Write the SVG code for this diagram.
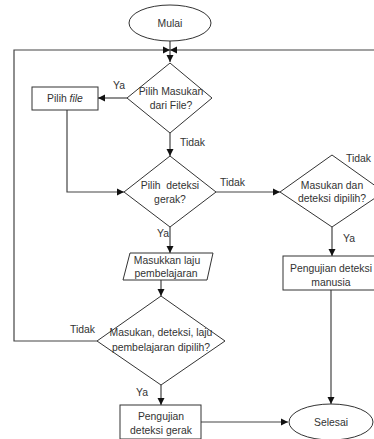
<svg xmlns="http://www.w3.org/2000/svg" width="374" height="439" viewBox="0 0 374 439">
<defs>
<marker id="arr" markerWidth="8" markerHeight="8" refX="7" refY="4" orient="auto" markerUnits="userSpaceOnUse">
<path d="M0,0.5 L7,4 L0,7.5 Z" fill="#111"/>
</marker>
<style>
.sh{fill:#fff;stroke:#333;stroke-width:1}
.ln{fill:none;stroke:#444;stroke-width:1.2}
text{font-family:"Liberation Sans",Arial,sans-serif;font-size:10.4px;fill:#333}
.c{text-anchor:middle}
</style>
</defs>
<rect width="374" height="439" fill="#fff"/>
<g id="connectors">
<path class="ln" d="M170,41 V62" marker-end="url(#arr)"/>
<path class="ln" d="M97,341 H14 V50 H170" marker-end="url(#arr)"/>
<path class="ln" d="M380,50 H170" marker-end="url(#arr)"/>
<path class="ln" d="M127,98 H98" marker-end="url(#arr)"/>
<path class="ln" d="M170,133 V156" marker-end="url(#arr)"/>
<path class="ln" d="M67,110 V192 H124" marker-end="url(#arr)"/>
<path class="ln" d="M216,192 H280" marker-end="url(#arr)"/>
<path class="ln" d="M170,227 V253" marker-end="url(#arr)"/>
<path class="ln" d="M332,227 V256" marker-end="url(#arr)"/>
<path class="ln" d="M161,280 V296" marker-end="url(#arr)"/>
<path class="ln" d="M161,385 V405" marker-end="url(#arr)"/>
<path class="ln" d="M201,422 H288" marker-end="url(#arr)"/>
<path class="ln" d="M331,290 V404" marker-end="url(#arr)"/>
<text x="113" y="89">Ya</text>
<text x="180" y="146">Tidak</text>
<text x="220" y="186">Tidak</text>
<text x="346" y="162">Tidak</text>
<text x="157" y="237">Ya</text>
<text x="343" y="242">Ya</text>
<text x="70" y="333">Tidak</text>
<text x="136" y="396">Ya</text>
</g>
<g id="mulai">
<ellipse class="sh" cx="170" cy="23" rx="41" ry="18"/>
<text class="c" x="170" y="27">Mulai</text>
</g>
<g id="d1">
<polygon class="sh" points="170,63 212,98 170,133 127,98"/>
<text class="c" x="171" y="95">Pilih Masukan</text>
<text class="c" x="171" y="109">dari File?</text>
</g>
<g id="pilihfile">
<rect class="sh" x="32" y="87" width="66" height="23"/>
<text class="c" x="65" y="102">Pilih <tspan font-style="italic">file</tspan></text>
</g>
<g id="d2">
<polygon class="sh" points="170,156 216,192 170,227 124,192"/>
<text class="c" x="170" y="189" xml:space="preserve">Pilih  deteksi</text>
<text class="c" x="170" y="203">gerak?</text>
</g>
<g id="d3">
<polygon class="sh" points="332,155 384,192 332,227 280,192"/>
<text class="c" x="332" y="189">Masukan dan</text>
<text class="c" x="332" y="202">deteksi dipilih?</text>
</g>
<g id="laju">
<polygon class="sh" points="130,253 213,253 207,280 123,280"/>
<text class="c" x="167" y="264">Masukkan laju</text>
<text class="c" x="166" y="277">pembelajaran</text>
</g>
<g id="manusia">
<rect class="sh" x="283" y="256" width="100" height="34"/>
<text class="c" x="331" y="272">Pengujian deteksi</text>
<text class="c" x="331" y="286">manusia</text>
</g>
<g id="d4">
<polygon class="sh" points="161,296 225,341 161,385 97,341"/>
<text class="c" x="161" y="336">Masukan, deteksi, laju</text>
<text class="c" x="161" y="351">pembelajaran dipilih?</text>
</g>
<g id="gerak">
<rect class="sh" x="120" y="405" width="81" height="34"/>
<text class="c" x="161" y="420">Pengujian</text>
<text class="c" x="161" y="434">deteksi gerak</text>
</g>
<g id="selesai">
<ellipse class="sh" cx="331" cy="422" rx="42" ry="18"/>
<text class="c" x="331" y="426">Selesai</text>
</g>
</svg>
